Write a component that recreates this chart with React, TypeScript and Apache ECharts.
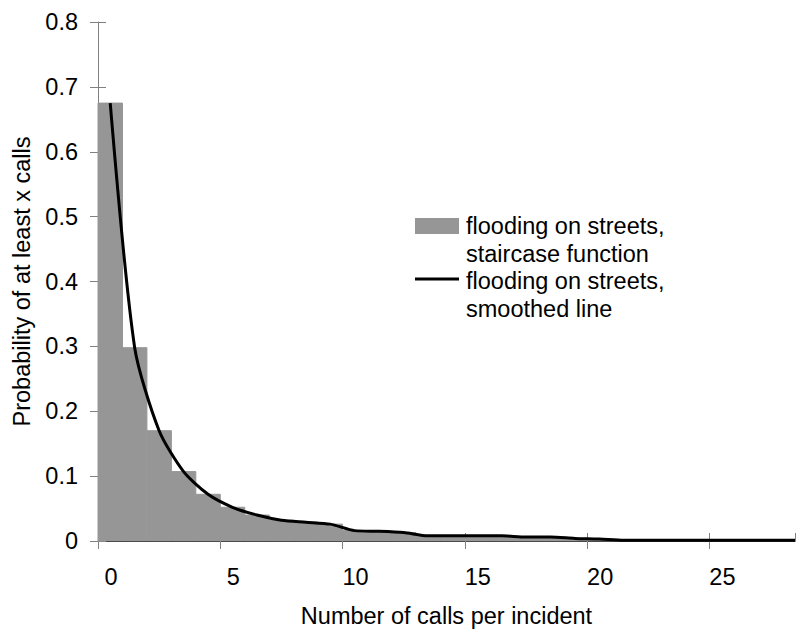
import React, { useEffect, useRef } from "react";
import * as echarts from "echarts";

// Probability of at least x calls, per unit-wide bin starting at x = 0, 1, 2, ...
const CALL_COUNTS = Array.from({ length: 29 }, (_, i) => i);
const PROBABILITIES = [
  0.675, 0.298, 0.17, 0.107, 0.072, 0.052, 0.04, 0.032, 0.029, 0.026,
  0.016, 0.015, 0.013, 0.008, 0.008, 0.008, 0.008, 0.006, 0.006, 0.004,
  0.003, 0.001, 0.001, 0.001, 0.001, 0.001, 0.001, 0.001, 0.001,
];
const Y_TICKS = { min: 0, max: 0.8, step: 0.1 };
const X_TICKS = { min: 0, max: 28.5, step: 5 };

const STAIR_NAME = "flooding on streets,\nstaircase function";
const LINE_NAME = "flooding on streets,\nsmoothed line";
const X_TITLE = "Number of calls per incident";
const Y_TITLE = "Probability of at least x calls";

const FONT = "'Liberation Sans', Arial, sans-serif";
const FONT_SIZE = 23.5;
const BAR_GREY = "#969696";
const AXIS_GREY = "#808080";

export default function App() {
  const ref = useRef<HTMLDivElement>(null);

  useEffect(() => {
    if (!ref.current) return;
    const chart = echarts.init(ref.current, undefined, { renderer: "svg" });

    const stairData = CALL_COUNTS.map((x, i) => [x, PROBABILITIES[i]]);
    const lineData = CALL_COUNTS.map((x, i) => [x + 0.5, PROBABILITIES[i]]);

    const textStyle = { fontFamily: FONT, fontSize: FONT_SIZE, color: "#000" };

    chart.setOption({
      animation: false,
      backgroundColor: "#fff",
      textStyle: { fontFamily: FONT },
      grid: { left: 98, top: 22, right: 1, bottom: 87, containLabel: false },
      xAxis: [
        {
          type: "value",
          min: X_TICKS.min,
          max: X_TICKS.max,
          interval: X_TICKS.step,
          position: "bottom",
          splitLine: { show: false },
          axisLine: { show: true, onZero: false, lineStyle: { color: "#000", width: 1 } },
          axisTick: { show: true, length: 8, lineStyle: { color: AXIS_GREY } },
          axisLabel: {
            ...textStyle,
            margin: 24,
            padding: [0, 0, 0, 26],
            showMaxLabel: false,
          },
          name: X_TITLE,
          nameLocation: "middle",
          nameGap: 63,
          nameTextStyle: textStyle,
        },
        {
          type: "value",
          min: X_TICKS.min,
          max: X_TICKS.max,
          interval: X_TICKS.step,
          position: "bottom",
          splitLine: { show: false },
          axisLine: { show: false },
          axisTick: { show: true, inside: true, length: 8, lineStyle: { color: AXIS_GREY } },
          axisLabel: { show: false },
        },
      ],
      yAxis: [
        {
          type: "value",
          min: Y_TICKS.min,
          max: Y_TICKS.max,
          interval: Y_TICKS.step,
          position: "left",
          splitLine: { show: false },
          axisLine: { show: true, onZero: false, lineStyle: { color: AXIS_GREY, width: 1 } },
          axisTick: { show: true, length: 8, lineStyle: { color: AXIS_GREY } },
          axisLabel: { ...textStyle, margin: 20 },
          name: Y_TITLE,
          nameLocation: "middle",
          nameGap: 63,
          nameTextStyle: textStyle,
        },
        {
          type: "value",
          min: Y_TICKS.min,
          max: Y_TICKS.max,
          interval: Y_TICKS.step,
          position: "left",
          splitLine: { show: false },
          axisLine: { show: false },
          axisTick: { show: true, inside: true, length: 8, lineStyle: { color: AXIS_GREY } },
          axisLabel: { show: false },
        },
      ],
      series: [
        {
          name: STAIR_NAME,
          type: "custom",
          xAxisIndex: 0,
          yAxisIndex: 0,
          data: stairData,
          z: 1,
          renderItem: (params: any, api: any) => {
            const x = api.value(0);
            const v = api.value(1);
            const topLeft = api.coord([x, v]);
            const bottomRight = api.coord([x + 1, 0]);
            const cs = params.coordSys;
            const shape = echarts.graphic.clipRectByRect(
              {
                x: topLeft[0],
                y: topLeft[1],
                width: bottomRight[0] - topLeft[0],
                height: bottomRight[1] - topLeft[1],
              },
              { x: cs.x, y: cs.y, width: cs.width, height: cs.height }
            );
            if (!shape) return null;
            // a thin same-colour outline closes the hairline seams between bins
            return {
              type: "rect",
              shape,
              style: { fill: BAR_GREY, stroke: BAR_GREY, lineWidth: 1 },
            };
          },
        },
        {
          name: LINE_NAME,
          type: "line",
          xAxisIndex: 0,
          yAxisIndex: 0,
          data: lineData,
          smooth: 0.25,
          symbol: "none",
          z: 3,
          lineStyle: { color: "#000", width: 3 },
        },
      ],
      graphic: [
        {
          type: "rect",
          left: 415,
          top: 218,
          shape: { width: 44, height: 16 },
          style: { fill: BAR_GREY },
        },
        {
          type: "text",
          left: 466,
          top: 212,
          style: {
            text: STAIR_NAME,
            font: `${FONT_SIZE}px ${FONT}`,
            fill: "#000",
            lineHeight: 28,
          },
        },
        {
          type: "line",
          shape: { x1: 415, y1: 279, x2: 459, y2: 279 },
          style: { stroke: "#000", lineWidth: 3 },
        },
        {
          type: "text",
          left: 466,
          top: 267,
          style: {
            text: LINE_NAME,
            font: `${FONT_SIZE}px ${FONT}`,
            fill: "#000",
            lineHeight: 28,
          },
        },
      ],
    });

    return () => chart.dispose();
  }, []);

  return (
    <div
      ref={ref}
      style={{ position: "fixed", left: 0, top: 0, width: 796, height: 633, background: "#fff" }}
    />
  );
}
